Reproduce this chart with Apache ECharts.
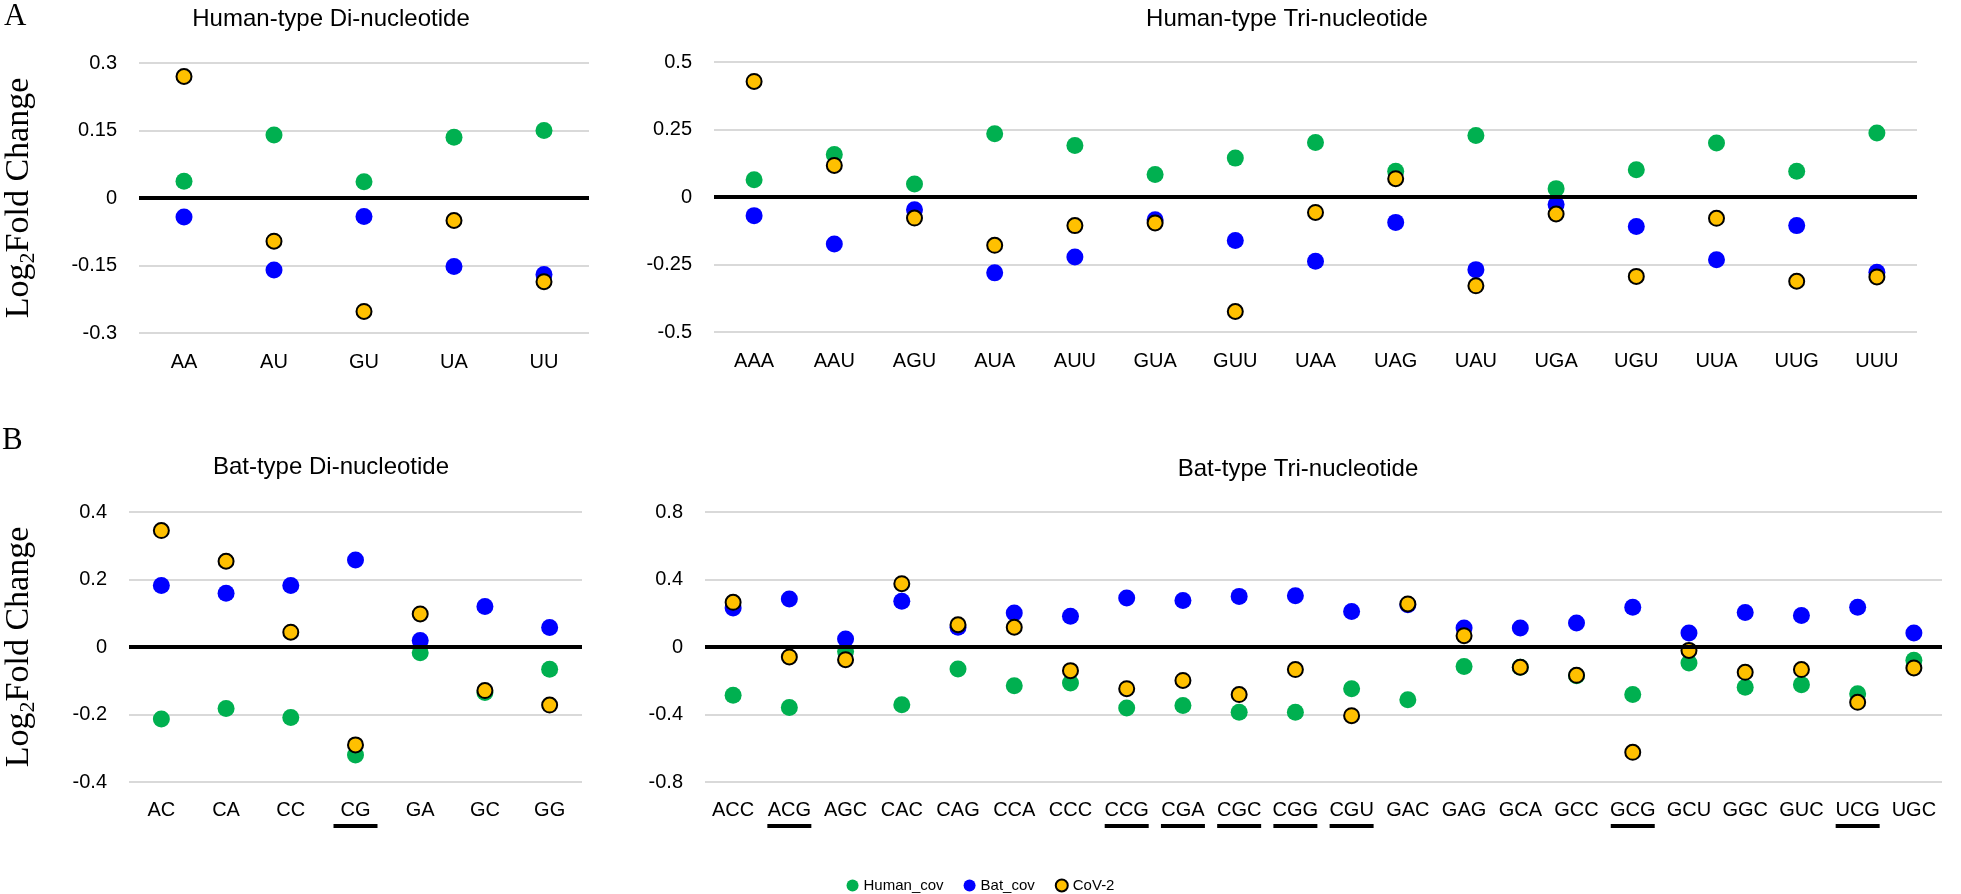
<!DOCTYPE html>
<html><head><meta charset="utf-8">
<script src="https://cdn.jsdelivr.net/npm/echarts@6/dist/echarts.min.js"></script>
<style>html,body{margin:0;padding:0;background:#fff}#c{width:1961px;height:894px}</style>
</head><body><div id="c"></div>
<script>
// ---------- DATA ----------
const catHumanDi = ['AA','AU','GU','UA','UU'];
const humanDi_Human = [0.037, 0.14, 0.036, 0.135, 0.15];
const humanDi_Bat   = [-0.042, -0.16, -0.041, -0.152, -0.17];
const humanDi_CoV2  = [0.27, -0.096, -0.252, -0.05, -0.186];
const yTicksHumanDi = [-0.3, -0.15, 0, 0.15, 0.3];

const catHumanTri = ['AAA','AAU','AGU','AUA','AUU','GUA','GUU','UAA','UAG','UAU','UGA','UGU','UUA','UUG','UUU'];
const humanTri_Human = [0.064, 0.157, 0.048, 0.234, 0.191, 0.083, 0.144, 0.202, 0.095, 0.228, 0.031, 0.101, 0.2, 0.095, 0.237];
const humanTri_Bat   = [-0.069, -0.174, -0.047, -0.281, -0.222, -0.084, -0.161, -0.238, -0.094, -0.269, -0.028, -0.109, -0.232, -0.106, -0.279];
const humanTri_CoV2  = [0.428, 0.117, -0.078, -0.179, -0.106, -0.096, -0.424, -0.057, 0.068, -0.329, -0.063, -0.294, -0.079, -0.312, -0.296];
const yTicksHumanTri = [-0.5, -0.25, 0, 0.25, 0.5];

const catBatDi = ['AC','CA','CC','CG','GA','GC','GG'];
const batDi_Human = [-0.213, -0.182, -0.209, -0.32, -0.017, -0.135, -0.066];
const batDi_Bat   = [0.182, 0.159, 0.182, 0.258, 0.019, 0.12, 0.058];
const batDi_CoV2  = [0.345, 0.254, 0.044, -0.29, 0.098, -0.129, -0.172];
const yTicksBatDi = [-0.4, -0.2, 0, 0.2, 0.4];

const catBatTri = ['ACC','ACG','AGC','CAC','CAG','CCA','CCC','CCG','CGA','CGC','CGG','CGU','GAC','GAG','GCA','GCC','GCG','GCU','GGC','GUC','UCG','UGC'];
const batTri_Human = [-0.286, -0.358, -0.026, -0.342, -0.13, -0.229, -0.213, -0.361, -0.346, -0.387, -0.387, -0.247, -0.312, -0.115, -0.12, -0.17, -0.282, -0.095, -0.239, -0.223, -0.277, -0.079];
const batTri_Bat   = [0.231, 0.284, 0.047, 0.271, 0.117, 0.201, 0.182, 0.29, 0.275, 0.30, 0.304, 0.211, 0.25, 0.113, 0.113, 0.142, 0.235, 0.083, 0.205, 0.186, 0.235, 0.083];
const batTri_CoV2  = [0.265, -0.059, -0.075, 0.375, 0.132, 0.117, -0.14, -0.247, -0.198, -0.282, -0.134, -0.407, 0.255, 0.067, -0.12, -0.168, -0.624, -0.02, -0.15, -0.134, -0.328, -0.124];
const yTicksBatTri = [-0.8, -0.4, 0, 0.4, 0.8];

const underlined = ['CG','ACG','CCG','CGA','CGC','CGG','CGU','GCG','UCG'];

const panelTitles = ['Human-type Di-nucleotide','Human-type Tri-nucleotide','Bat-type Di-nucleotide','Bat-type Tri-nucleotide'];
const seriesNames = ['Human_cov','Bat_cov','CoV-2'];
const yAxisName = '{a|Log}{s|2}{a|Fold Change}';

// ---------- STYLE / LAYOUT ----------
const SANS = 'Liberation Sans, Arial, sans-serif';
const SERIF = 'Liberation Serif, Times New Roman, serif';
const colors = { 'Human_cov': '#00B050', 'Bat_cov': '#0000FF', 'CoV-2': '#FFC000' };

const panels = [
  { cats: catHumanDi, data: [humanDi_Human, humanDi_Bat, humanDi_CoV2], ticks: yTicksHumanDi,
    grid: { left: 139, top: 63, width: 450, height: 270 }, nameGap: 100, showName: true, labelMargin: 16 },
  { cats: catHumanTri, data: [humanTri_Human, humanTri_Bat, humanTri_CoV2], ticks: yTicksHumanTri,
    grid: { left: 714, top: 62, width: 1203, height: 270 }, showName: false, labelMargin: 16 },
  { cats: catBatDi, data: [batDi_Human, batDi_Bat, batDi_CoV2], ticks: yTicksBatDi,
    grid: { left: 129, top: 512, width: 453, height: 270 }, nameGap: 90, showName: true, labelMargin: 15 },
  { cats: catBatTri, data: [batTri_Human, batTri_Bat, batTri_CoV2], ticks: yTicksBatTri,
    grid: { left: 705, top: 512, width: 1237, height: 270 }, showName: false, labelMargin: 15 }
];

const titleCenters = [[331, 7], [1287, 7], [331, 455], [1298, 457]];

function labelFmt(v) {
  return underlined.includes(v) ? '{t|' + v + '}\n{u|}' : '{t|' + v + '}\n{n|}';
}

const option = {
  animation: false,
  backgroundColor: '#fff',
  title: [
    ...panelTitles.map((t, i) => ({
      text: t, left: titleCenters[i][0], top: titleCenters[i][1], textAlign: 'center', padding: 0,
      textStyle: { fontFamily: SANS, fontSize: 24, fontWeight: 'normal', color: '#000' }
    })),
    { text: 'A', left: 4, top: 1, padding: 0, textStyle: { fontFamily: SERIF, fontSize: 31, fontWeight: 'normal', color: '#000' } },
    { text: 'B', left: 2, top: 425, padding: 0, textStyle: { fontFamily: SERIF, fontSize: 31, fontWeight: 'normal', color: '#000' } }
  ],
  legend: {
    data: seriesNames, left: 'center', top: 873, icon: 'circle', itemWidth: 12, itemHeight: 12, itemGap: 20,
    textStyle: { fontFamily: SANS, fontSize: 15, color: '#000' }
  },
  grid: panels.map(p => p.grid),
  xAxis: panels.map((p, i) => ({
    type: 'category', gridIndex: i, data: p.cats,
    axisLine: { show: false }, axisTick: { show: false }, splitLine: { show: false },
    axisLabel: {
      interval: 0, margin: p.labelMargin, formatter: labelFmt,
      rich: {
        t: { fontFamily: SANS, fontSize: 20, lineHeight: 26, color: '#000' },
        u: { width: 44, height: 4, lineHeight: 6, backgroundColor: '#000' },
        n: { width: 44, height: 4, lineHeight: 6 }
      }
    }
  })),
  yAxis: panels.map((p, i) => {
    const iv = parseFloat((p.ticks[1] - p.ticks[0]).toFixed(4));
    return {
      type: 'value', gridIndex: i, min: p.ticks[0], max: p.ticks[p.ticks.length - 1], interval: iv,
      axisLine: { show: false }, axisTick: { show: false },
      splitLine: { show: true, lineStyle: { color: '#d9d9d9', width: 2 } },
      axisLabel: { margin: 22, fontFamily: SANS, fontSize: 20, color: '#000' },
      name: p.showName ? yAxisName : '', nameLocation: 'middle', nameRotate: 90, nameGap: p.nameGap || 0,
      nameTextStyle: {
        fontFamily: SERIF, fontSize: 34, color: '#000',
        rich: {
          a: { fontFamily: SERIF, fontSize: 34, lineHeight: 40, color: '#000' },
          s: { fontFamily: SERIF, fontSize: 22, lineHeight: 16, verticalAlign: 'bottom', color: '#000' }
        }
      }
    };
  }),
  series: []
};

panels.forEach((p, i) => {
  seriesNames.forEach((name, k) => {
    const isCov = name === 'CoV-2';
    const s = {
      name: name, type: 'scatter', xAxisIndex: i, yAxisIndex: i, data: p.data[k],
      symbol: 'circle', symbolSize: isCov ? 15 : 17,
      itemStyle: isCov ? { color: colors[name], borderColor: '#000', borderWidth: 2, opacity: 1 }
                       : { color: colors[name], opacity: 1 },
      emphasis: { disabled: true }, z: 2 + k
    };
    if (k === 2) {
      s.markLine = {
        silent: true, symbol: ['none', 'none'], label: { show: false },
        lineStyle: { color: '#000', width: 4, type: 'solid' },
        data: [{ yAxis: 0 }], animation: false
      };
    }
    option.series.push(s);
  });
});

const chart = echarts.init(document.getElementById('c'), null, { renderer: 'canvas' });
chart.setOption(option);
</script>
</body></html>
